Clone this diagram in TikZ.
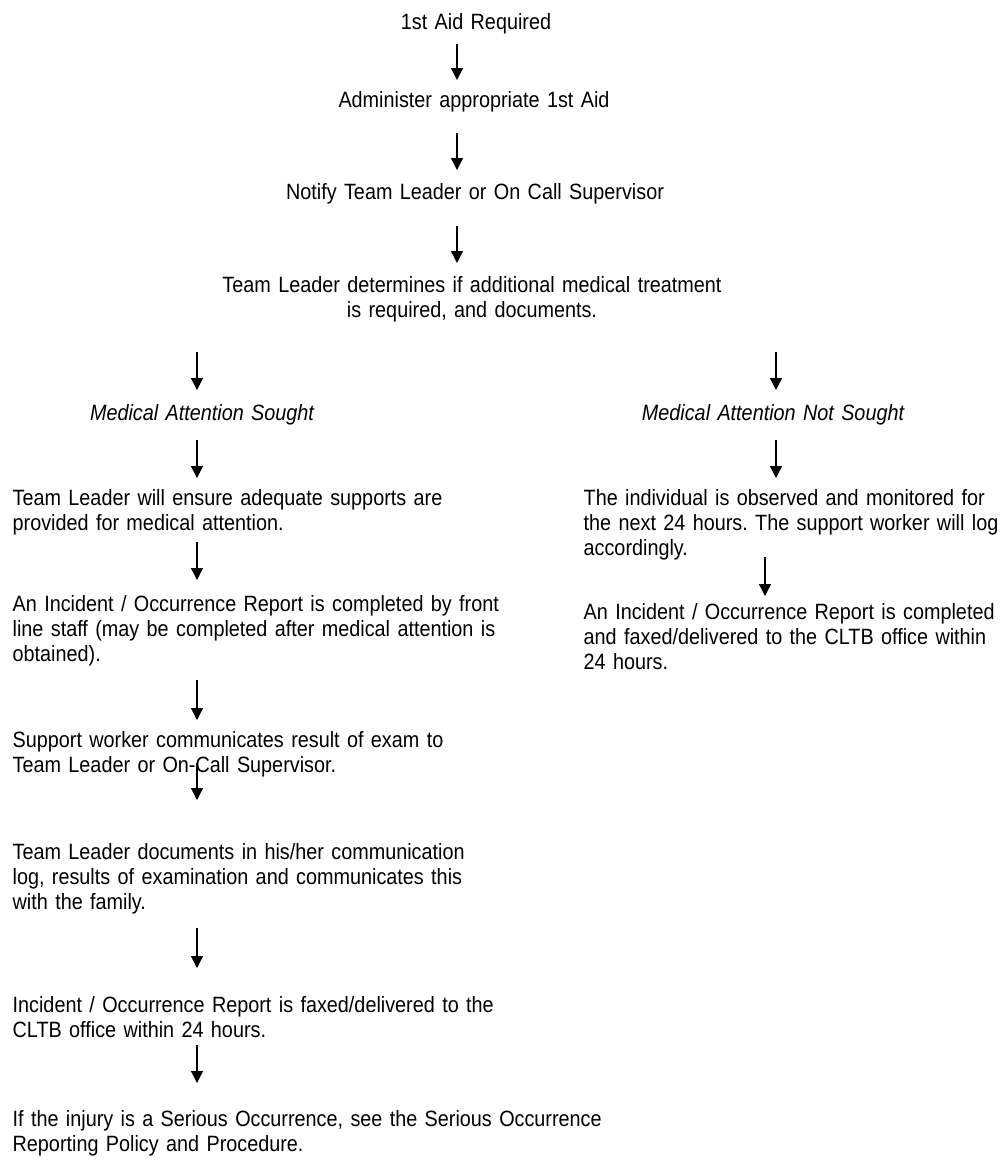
\documentclass[tikz,border=0pt]{standalone}
\usepackage{fontspec}
\setmainfont[FakeStretch=0.895]{Liberation Sans}
\usetikzlibrary{arrows.meta,calc}
\newcommand\flowfont{\fontsize{16.6}{18.75}\selectfont\frenchspacing}

\begin{document}
\begin{tikzpicture}[x=0.75pt,y=-0.75pt,>={Triangle[length=9pt,width=9pt]},
	line width=1pt, font=\flowfont,
	ctr/.style={inner sep=0pt, text width=500pt, align=center, anchor=base},
	lft/.style={inner sep=0pt, text width=480pt, align=left, anchor=base west},
	ital/.style={ctr, font=\flowfont\itshape}]
	\useasboundingbox (0,0) rectangle (1000,1161);
	\def\lx{12} \def\rx{583}
	\coordinate (colM) at (457,0);
	\coordinate (colL) at (197,0);
	\coordinate (colR) at (776,0);
	\coordinate (colS) at (765,0);
	% main column
	\node[ctr] (aid) at (476,29) {1st Aid Required};
	\node[ctr] (admin) at (474,107) {Administer appropriate 1st Aid};
	\node[ctr] (notify) at (475,199) {Notify Team Leader or On Call Supervisor};
	\node[ctr] (decide) at (472,292) {Team Leader determines if additional medical treatment\\ is required, and documents.};
	\node[ital] (sought) at (202,420) {Medical Attention Sought};
	\node[ital] (notsought) at (773,420) {Medical Attention Not Sought};
	% left branch
	\node[lft] (ensure) at (\lx,505) {Team Leader will ensure adequate supports are\\ provided for medical attention.};
	\node[lft] (report) at (\lx,611) {An Incident / Occurrence Report is completed by front\\ line staff (may be completed after medical attention is\\ obtained).};
	\node[lft] (result) at (\lx,747) {Support worker communicates result of exam to\\ Team Leader or On-Call Supervisor.};
	\node[lft] (log) at (\lx,859) {Team Leader documents in his/her communication\\ log, results of examination and communicates this\\ with the family.};
	\node[lft] (fax) at (\lx,1012) {Incident / Occurrence Report is faxed/delivered to the\\ CLTB office within 24 hours.};
	\node[lft] (serious) at (\lx,1126) {If the injury is a Serious Occurrence, see the Serious Occurrence\\ Reporting Policy and Procedure.};
	% right branch
	\node[lft] (observe) at (\rx,505) {The individual is observed and monitored for\\ the next 24 hours. The support worker will log\\ accordingly.};
	\node[lft] (faxed) at (\rx,619) {An Incident / Occurrence Report is completed\\ and faxed/delivered to the CLTB office within\\ 24 hours.};
	% arrows
	\draw[->] ($(aid.base -| colM)+(0,15)$) -- ($(admin.base -| colM)+(0,-27)$);
	\draw[->] ($(admin.base -| colM)+(0,26)$) -- ($(notify.base -| colM)+(0,-29)$);
	\draw[->] ($(notify.base -| colM)+(0,27)$) -- ($(decide.base -| colM)+(0,-29)$);
	\draw[->] ($(decide.base -| colL)+(0,60)$) -- ($(sought.base -| colL)+(0,-30)$);
	\draw[->] ($(decide.base -| colR)+(0,60)$) -- ($(notsought.base -| colR)+(0,-30)$);
	\draw[->] ($(sought.base -| colL)+(0,20)$) -- ($(ensure.base -| colL)+(0,-27)$);
	\draw[->] ($(notsought.base -| colR)+(0,20)$) -- ($(observe.base -| colR)+(0,-27)$);
	\draw[->] ($(ensure.base -| colL)+(0,37)$) -- ($(report.base -| colL)+(0,-31)$);
	\draw[->] ($(observe.base -| colS)+(0,52)$) -- ($(faxed.base -| colS)+(0,-23)$);
	\draw[->] ($(report.base -| colL)+(0,69)$) -- ($(result.base -| colL)+(0,-27)$);
	\draw[->] ($(result.base -| colL)+(0,16)$) -- ($(log.base -| colL)+(0,-59)$);
	\draw[->] ($(log.base -| colL)+(0,69)$) -- ($(fax.base -| colL)+(0,-44)$);
	\draw[->] ($(fax.base -| colL)+(0,33)$) -- ($(serious.base -| colL)+(0,-43)$);
\end{tikzpicture}
\end{document}
